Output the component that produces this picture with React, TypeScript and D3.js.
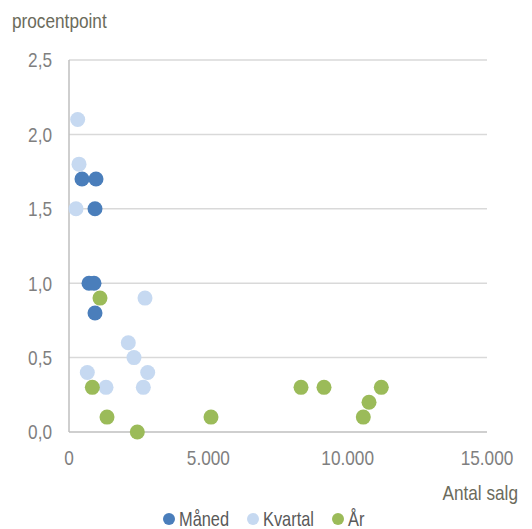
import * as d3 from "d3";

// Antal salg (x) og procentpoint (y) pr. serie
const manedX = [466, 969, 933, 718, 897, 933];
const manedY = [1.7, 1.7, 1.5, 1.0, 1.0, 0.8];

const kvartalX = [312, 359, 251, 2727, 2128, 2332, 657, 2824, 1328, 2667];
const kvartalY = [2.1, 1.8, 1.5, 0.9, 0.6, 0.5, 0.4, 0.4, 0.3, 0.3];

const aarX = [1112, 837, 1364, 2451, 5096, 8326, 9151, 11207, 10766, 10561];
const aarY = [0.9, 0.3, 0.1, 0.0, 0.1, 0.3, 0.3, 0.3, 0.2, 0.1];

const seriesNames = ["Måned", "Kvartal", "År"];
const seriesColors = ["#4a7ebb", "#c6d9f1", "#9bbb59"];

const xTicks = [0, 5000, 10000, 15000];
const yTicks = [0, 0.5, 1.0, 1.5, 2.0, 2.5];

const W = 532;
const H = 529;
const FONT = "'Liberation Sans', Arial, sans-serif";
const SX = 0.82; // narrow font look

const x = d3.scaleLinear().domain([0, 15000]).range([69, 487]);
const y = d3.scaleLinear().domain([0, 2.5]).range([432, 60]);

const fmtX = (v: number) => (v === 0 ? "0" : d3.format(",")(v).replace(/,/g, "."));
const fmtY = (v: number) => d3.format(".1f")(v).replace(".", ",");

const series = [
  { xs: manedX, ys: manedY },
  { xs: kvartalX, ys: kvartalY },
  { xs: aarX, ys: aarY },
];

const legendX = [169, 253, 338];

function NText(props: {
  x: number;
  y: number;
  anchor?: string;
  size: number;
  fill: string;
  dy?: string;
  children: string;
}) {
  return (
    <text
      transform={`translate(${props.x},${props.y}) scale(${SX},1)`}
      dy={props.dy}
      textAnchor={props.anchor || "start"}
      fontSize={props.size}
      fill={props.fill}
    >
      {props.children}
    </text>
  );
}

export default function App() {
  return (
    <svg
      width={W}
      height={H}
      style={{ position: "absolute", left: 0, top: 0, background: "#fff" }}
      fontFamily={FONT}
    >
      {/* gridlines */}
      {yTicks.slice(1).map((t) => (
        <line key={t} x1={x(0)} x2={x(15000)} y1={y(t)} y2={y(t)} stroke="#d9d9d9" strokeWidth={1.5} />
      ))}
      {/* axes */}
      <line x1={x(0)} x2={x(15000)} y1={y(0)} y2={y(0)} stroke="#bfbfbf" strokeWidth={1.5} />
      <line x1={x(0)} x2={x(0)} y1={y(0)} y2={y(2.5)} stroke="#bfbfbf" strokeWidth={1.5} />

      {yTicks.map((t) => (
        <NText key={t} x={52} y={y(t)} dy="0.35em" anchor="end" size={21} fill="#7f7f7f">
          {fmtY(t)}
        </NText>
      ))}
      {xTicks.map((t) => (
        <NText key={t} x={x(t)} y={458} dy="0.35em" anchor="middle" size={21} fill="#7f7f7f">
          {fmtX(t)}
        </NText>
      ))}

      <NText x={12} y={28} size={21} fill="#6b6b5b">procentpoint</NText>
      <NText x={518} y={500} anchor="end" size={21} fill="#6b6b5b">Antal salg</NText>

      {series.map((s, i) => (
        <g key={i} fill={seriesColors[i]}>
          {s.xs.map((v, j) => (
            <circle key={j} cx={x(v)} cy={y(s.ys[j])} r={7.5} />
          ))}
        </g>
      ))}

      {/* legend */}
      {seriesNames.map((n, i) => (
        <g key={n}>
          <circle cx={legendX[i]} cy={519} r={6} fill={seriesColors[i]} />
          <NText x={legendX[i] + 10} y={519} dy="0.35em" size={20} fill="#595959">
            {n}
          </NText>
        </g>
      ))}
    </svg>
  );
}
